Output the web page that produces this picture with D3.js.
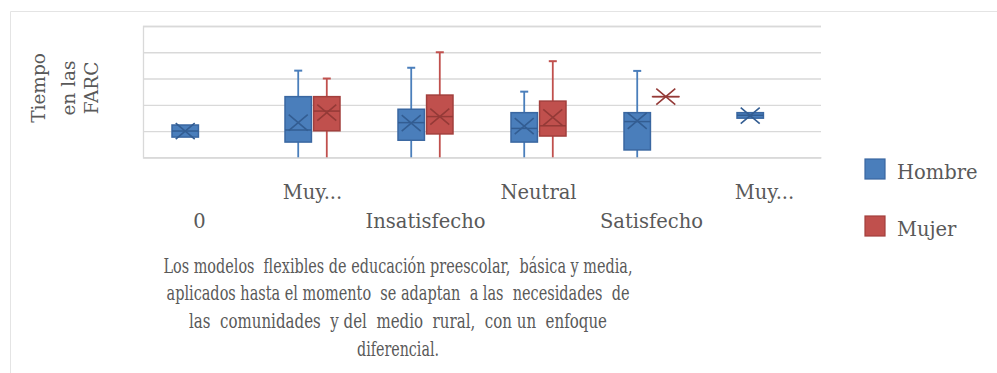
<!DOCTYPE html>
<html>
<head>
<meta charset="utf-8">
<script src="https://cdn.jsdelivr.net/npm/d3@7"></script>
<style>
  html, body { margin: 0; padding: 0; background: #fff; }
  svg { display: block; }
  text { font-family: "DejaVu Serif", "Liberation Serif", serif; fill: #595959; }
  .caption { white-space: pre; }
</style>
</head>
<body>
<svg id="chart" width="997" height="373"></svg>
<script>
// Categories (satisfaction levels) and the labels shown under each group
const categories = ["0", "Muy insatisfecho", "Insatisfecho", "Neutral", "Satisfecho", "Muy satisfecho"];
const tickLabels = ["0", "Muy...", "Insatisfecho", "Neutral", "Satisfecho", "Muy..."];
const seriesNames = ["Hombre", "Mujer"];

// Gridline values (no numeric labels are drawn on the value axis)
const yTicks = [0, 1, 2, 3, 4, 5];

// Five-number summaries and mean per category — Hombre
const hombreMin    = [0.77, 0, 0, 0, 0, 1.49];
const hombreQ1     = [0.77, 0.58, 0.65, 0.58, 0.28, 1.49];
const hombreMedian = [1.00, 1.04, 1.32, 1.10, 1.36, 1.60];
const hombreQ3     = [1.23, 2.31, 1.83, 1.70, 1.70, 1.70];
const hombreMax    = [1.23, 3.30, 3.41, 2.50, 3.29, 1.70];
const hombreMean   = [1.00, 1.32, 1.30, 1.19, 1.39, 1.59];

// Five-number summaries and mean per category — Mujer (null = no responses)
const mujerMin    = [null, 0, 0, 0, 2.31, null];
const mujerQ1     = [null, 1.01, 0.89, 0.81, 2.31, null];
const mujerMedian = [null, 1.76, 1.55, 1.20, 2.31, null];
const mujerQ3     = [null, 2.31, 2.37, 2.14, 2.31, null];
const mujerMax    = [null, 3.00, 4.00, 3.66, 2.31, null];
const mujerMean   = [null, 1.70, 1.55, 1.52, 2.31, null];

const yTitleLines = ["Tiempo", "en las", "FARC"];
const captionLines = [
  "Los modelos  flexibles de educación preescolar,  básica y media,",
  "aplicados hasta el momento  se adaptan  a las  necesidades  de",
  "las  comunidades  y del  medio  rural,  con un  enfoque",
  "diferencial."
];

const colors = {
  Hombre: { fill: "#4a7ebb", stroke: "#3a67a1", line: "#4a7ebb", dark: "#335d92" },
  Mujer:  { fill: "#c0504d", stroke: "#a23f3c", line: "#c0504d", dark: "#943a37" }
};

function buildSeries(name, mn, q1, md, q3, mx, mean) {
  return categories.map((c, i) => ({
    series: name, category: c,
    min: mn[i], q1: q1[i], median: md[i], q3: q3[i], max: mx[i], mean: mean[i]
  })).filter(d => d.median !== null);
}
const boxes = [
  ...buildSeries("Hombre", hombreMin, hombreQ1, hombreMedian, hombreQ3, hombreMax, hombreMean),
  ...buildSeries("Mujer", mujerMin, mujerQ1, mujerMedian, mujerQ3, mujerMax, mujerMean)
];

const svg = d3.select("#chart");

// outer frame
svg.append("path")
  .attr("d", "M10.5,373 V11.5 H997")
  .attr("fill", "none").attr("stroke", "#e4e4e4").attr("stroke-width", 1);

const plot = { left: 143, right: 821, top: 26, bottom: 157.3 };

const x = d3.scaleBand().domain(categories).range([plot.left, plot.right]).padding(0);
const bw = x.bandwidth();
const xSub = d3.scaleBand().domain(seriesNames).range([bw / 2 - 28, bw / 2 + 28]).paddingInner(0.04);
const y = d3.scaleLinear().domain([0, 5]).range([plot.bottom, plot.top]);

// gridlines
const grid = svg.append("g")
  .attr("transform", `translate(${plot.left},0)`)
  .call(d3.axisLeft(y).tickValues(yTicks).tickSize(-(plot.right - plot.left)).tickFormat(""));
grid.select(".domain").attr("stroke", "#d9d9d9").attr("stroke-width", 1.3);
grid.selectAll(".tick line").attr("stroke", "#d9d9d9").attr("stroke-width", 1.3);

// category axis line
const xAxis = svg.append("g")
  .attr("transform", `translate(0,${plot.bottom})`)
  .call(d3.axisBottom(x).tickSize(0).tickFormat(""));
xAxis.select(".domain").attr("stroke", "#d9d9d9").attr("stroke-width", 1.3);

// staggered category labels
svg.append("g").selectAll("text")
  .data(categories)
  .join("text")
  .attr("x", d => x(d) + bw / 2)
  .attr("y", (d, i) => i % 2 === 1 ? 199 : 228)
  .attr("text-anchor", "middle")
  .attr("font-size", 19.5)
  .text((d, i) => tickLabels[i]);

// boxes
const bx = d => x(d.category) + xSub(d.series);
const sw = xSub.bandwidth();
const g = svg.append("g").selectAll("g").data(boxes).join("g");

// whiskers
g.append("line")
  .attr("x1", d => bx(d) + sw / 2).attr("x2", d => bx(d) + sw / 2)
  .attr("y1", d => y(d.max)).attr("y2", d => y(d.q3))
  .attr("stroke", d => colors[d.series].line).attr("stroke-width", 1.8);
g.append("line")
  .attr("x1", d => bx(d) + sw / 2).attr("x2", d => bx(d) + sw / 2)
  .attr("y1", d => y(d.q1)).attr("y2", d => y(d.min))
  .attr("stroke", d => colors[d.series].line).attr("stroke-width", 1.8);
// whisker caps
g.filter(d => d.max > d.q3).append("line")
  .attr("x1", d => bx(d) + sw / 2 - 4).attr("x2", d => bx(d) + sw / 2 + 4)
  .attr("y1", d => y(d.max)).attr("y2", d => y(d.max))
  .attr("stroke", d => colors[d.series].line).attr("stroke-width", 2);

// box body
g.append("rect")
  .attr("x", d => bx(d) + 0.5).attr("width", sw - 1)
  .attr("y", d => y(d.q3)).attr("height", d => Math.max(0.01, y(d.q1) - y(d.q3)))
  .attr("fill", d => colors[d.series].fill)
  .attr("stroke", d => colors[d.series].stroke).attr("stroke-width", 1.5);

// median
g.append("line")
  .attr("x1", d => bx(d) + 0.5).attr("x2", d => bx(d) + sw - 0.5)
  .attr("y1", d => y(d.median)).attr("y2", d => y(d.median))
  .attr("stroke", d => colors[d.series].dark).attr("stroke-width", 1.5);

// mean marker (X)
g.append("path")
  .attr("d", d => {
    const cx = bx(d) + sw / 2, cy = y(d.mean), hw = 9.5, hh = 8;
    return `M${cx - hw},${cy - hh}L${cx + hw},${cy + hh}M${cx - hw},${cy + hh}L${cx + hw},${cy - hh}`;
  })
  .attr("fill", "none")
  .attr("stroke", d => colors[d.series].dark).attr("stroke-width", 1.6);

// value axis title
const yTitle = svg.append("text")
  .attr("transform", "translate(0,88) rotate(-90)")
  .attr("text-anchor", "middle")
  .attr("font-size", 18.5);
const yTitleBaselines = [45, 75, 98];
yTitle.selectAll("tspan").data(yTitleLines).join("tspan")
  .attr("x", 0).attr("y", (d, i) => yTitleBaselines[i])
  .text(d => d);

// legend
const legend = svg.append("g").selectAll("g").data(seriesNames).join("g")
  .attr("transform", (d, i) => `translate(865,${159 + i * 57})`);
legend.append("rect")
  .attr("width", 20).attr("height", 20)
  .attr("fill", d => colors[d].fill).attr("stroke", d => colors[d].stroke).attr("stroke-width", 1.2);
legend.append("text")
  .attr("x", 32).attr("y", 20)
  .attr("font-size", 19.5)
  .text(d => d);

// caption under the chart
const captionLengths = [469, 463, 418, 82];
svg.append("g").selectAll("text").data(captionLines).join("text")
  .attr("class", "caption")
  .attr("x", 398).attr("y", (d, i) => 272.7 + i * 27.6)
  .attr("text-anchor", "middle")
  .attr("font-size", 19.5)
  .attr("textLength", (d, i) => captionLengths[i])
  .attr("lengthAdjust", "spacingAndGlyphs")
  .text(d => d);
</script>
</body>
</html>
